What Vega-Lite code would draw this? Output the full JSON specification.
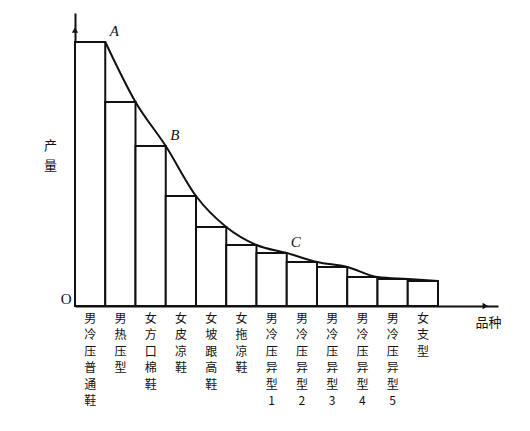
{
  "$schema": "https://vega.github.io/schema/vega-lite/v6.json",
  "width": 423,
  "height": 293,
  "autosize": {"type": "none"},
  "padding": {"left": 75, "top": 13, "right": 32, "bottom": 125},
  "background": "white",
  "config": {
    "view": {"stroke": null},
    "font": "Noto Sans CJK SC",
    "axis": {"labelFont": "Noto Sans CJK SC", "titleFont": "Noto Sans CJK SC", "labelColor": "#111", "titleColor": "#111"}
  },
  "data": {
    "values": [
      {"name": "男冷压普通鞋", "output": 264, "tag": "A"},
      {"name": "男热压型", "output": 204},
      {"name": "女方口棉鞋", "output": 160, "tag": "B"},
      {"name": "女皮凉鞋", "output": 110},
      {"name": "女坡跟高鞋", "output": 79},
      {"name": "女拖凉鞋", "output": 61},
      {"name": "男冷压异型1", "output": 53, "tag": "C"},
      {"name": "男冷压异型2", "output": 44},
      {"name": "男冷压异型3", "output": 39},
      {"name": "男冷压异型4", "output": 29},
      {"name": "男冷压异型5", "output": 27},
      {"name": "女支型", "output": 25}
    ]
  },
  "layer": [
    {
      "layer": [
        {
          "mark": {"type": "bar", "fill": "white", "stroke": "#111", "strokeWidth": 2},
          "encoding": {
            "x": {
              "field": "name", "type": "ordinal", "sort": null, "title": "品种",
              "scale": {"paddingInner": 0, "paddingOuter": 0.9917, "align": 0},
              "axis": {
                "titleFontSize": 13, "titleFontWeight": "normal",
                "titleX": 413, "titleY": 16, "titleAlign": "center", "titleBaseline": "middle",
                "labelAngle": 0, "labelExpr": "split(datum.label, '')",
                "labelFontSize": 12, "labelLineHeight": 16.5, "labelPadding": 7, "labelBaseline": "top",
                "ticks": false, "domainColor": "#111", "domainWidth": 2
              }
            },
            "y": {
              "field": "output", "type": "quantitative", "title": ["产", "量"],
              "scale": {"domain": [0, 293], "nice": false},
              "axis": {
                "titleAngle": 0, "titleX": -25, "titleY": 126,
                "titleAlign": "center", "titleBaseline": "top", "titleFontSize": 13, "titleFontWeight": "normal",
                "titleLineHeight": 20,
                "values": [0], "labelExpr": "datum.value === 0 ? 'O' : ''",
                "labelFont": "Liberation Serif", "labelFontSize": 15, "labelPadding": 4, "labelBaseline": "bottom",
                "ticks": false, "grid": false, "domainColor": "#111", "domainWidth": 2
              }
            }
          }
        },
        {
          "mark": {"type": "line", "color": "#111", "strokeWidth": 2, "interpolate": "monotone"},
          "encoding": {
            "x": {"field": "name", "type": "ordinal", "sort": null, "bandPosition": 1, "title": "品种"},
            "y": {"field": "output", "type": "quantitative", "title": ["产", "量"]}
          }
        },
        {
          "transform": [{"filter": "isValid(datum.tag)"}],
          "mark": {"type": "text", "font": "Liberation Serif", "fontStyle": "italic", "fontSize": 15, "dx": 9, "dy": -11, "color": "#111"},
          "encoding": {
            "x": {"field": "name", "type": "ordinal", "sort": null, "bandPosition": 1, "title": "品种"},
            "y": {"field": "output", "type": "quantitative", "title": ["产", "量"]},
            "text": {"field": "tag"}
          }
        }
      ]
    },
    {
      "data": {"values": [
        {"ax": 0, "ay": 276, "dir": "up"},
        {"ax": 0.97, "ay": 0, "dir": "right"}
      ]},
      "mark": {"type": "point", "filled": true, "color": "#111", "size": 40, "opacity": 1},
      "encoding": {
        "x": {"field": "ax", "type": "quantitative", "scale": {"domain": [0, 1], "nice": false, "zero": false}, "axis": null},
        "y": {"field": "ay", "type": "quantitative", "title": ["产", "量"]},
        "shape": {"field": "dir", "type": "nominal", "scale": {"domain": ["up", "right"], "range": ["triangle-up", "triangle-right"]}, "legend": null}
      }
    }
  ],
  "resolve": {"scale": {"x": "independent"}, "axis": {"x": "independent"}}
}
